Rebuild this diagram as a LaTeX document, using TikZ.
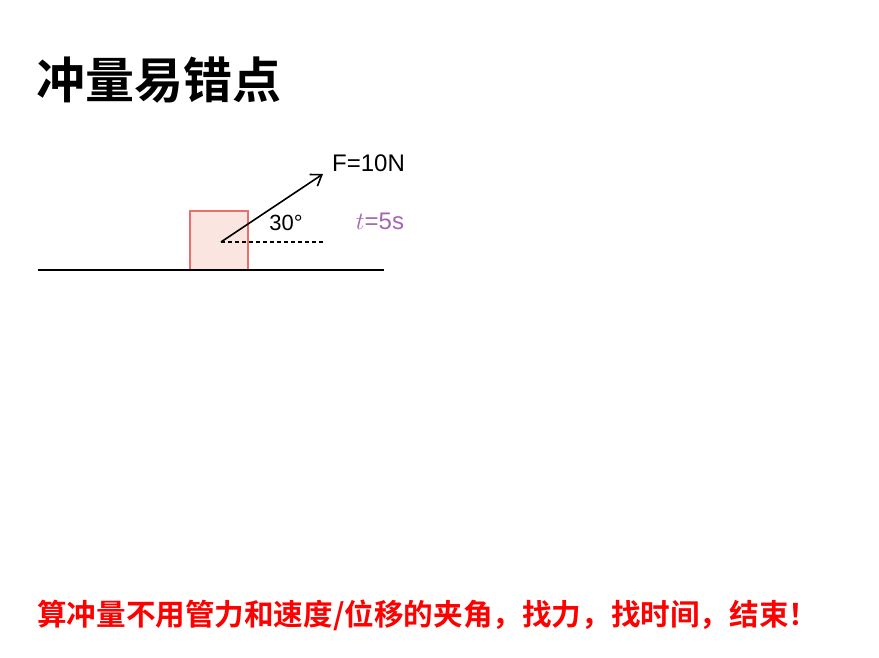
\documentclass[tikz,border=0pt]{standalone}
\usepackage{fontspec}
\setmainfont{Liberation Sans}
\newfontfamily\cjk{Noto Sans CJK SC}
\newfontfamily\cjkb{Noto Sans CJK SC Bold}
\usetikzlibrary{arrows.meta}
\definecolor{boxfill}{HTML}{FBE5E0}
\definecolor{boxline}{HTML}{E9706A}
\definecolor{tpurple}{HTML}{A565B5}
\definecolor{notered}{HTML}{FF0000}
\tikzset{
  lbl/.style={inner sep=0pt, font=\fontsize{24}{28}\selectfont},
  forcearrow/.style={line width=1.6pt, -{Straight Barb[length=10pt,width=14pt,line width=1.6pt]}},
}
\begin{document}
\begin{tikzpicture}[x=1pt,y=-1pt]
\useasboundingbox[fill=white] (0,0) rectangle (879,657);
\node[inner sep=0pt, anchor=west, font=\cjkb\fontsize{49}{52}\selectfont] (title) at (36,80) {冲量易错点};
\node[draw=boxline, line width=1.3pt, fill=boxfill, minimum width=58pt, minimum height=59pt, inner sep=0pt] (box) at (219,240.5) {};
\coordinate (g1) at (38,270);
\coordinate (g2) at (384,270);
\draw[line width=1.6pt] (g1) -- (g2);
\coordinate (o) at (221,242);
\coordinate (tip) at (323,174);
\coordinate (d) at (325,242);
\draw[forcearrow] (o) -- (tip);
\draw[line width=1.3pt, dash pattern=on 4pt off 3pt] (o) -- (d);
\node[lbl, anchor=west] (F) at (332,163) {F=10N};
\node[lbl, font=\fontsize{22}{26}\selectfont] (ang) at (286,223) {30°};
\node[lbl, text=tpurple, font=\fontsize{24}{28}\selectfont] (t) at (380,221) {$t$=5s};
\node[inner sep=0pt, anchor=west, text=notered, font=\cjkb\fontsize{29.6}{32}\selectfont] (note) at (37,615) {算冲量不用管力和速度/位移的夹角，找力，找时间，结束！};
\end{tikzpicture}
\end{document}
